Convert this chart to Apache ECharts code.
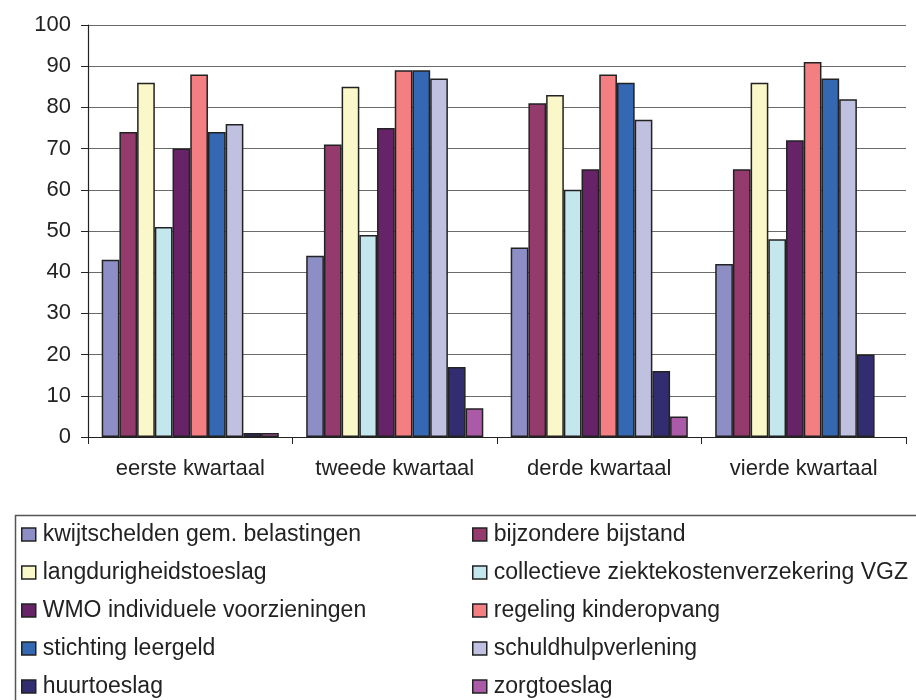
<!DOCTYPE html>
<html>
<head>
<meta charset="utf-8">
<script src="https://cdn.jsdelivr.net/npm/echarts@6/dist/echarts.min.js"></script>
<style>
  html, body { margin: 0; padding: 0; background: #fff; }
  #chart { width: 916px; height: 700px; }
</style>
</head>
<body>
<div id="chart"></div>
<script>
var kwartalen = ["eerste kwartaal", "tweede kwartaal", "derde kwartaal", "vierde kwartaal"];

var kwijtschelden = [43, 44, 46, 42];
var bijzondereBijstand = [74, 71, 81, 65];
var langdurigheidstoeslag = [86, 85, 83, 86];
var collectieveVGZ = [51, 49, 60, 48];
var wmoVoorzieningen = [70, 75, 65, 72];
var kinderopvang = [88, 89, 88, 91];
var leergeld = [74, 89, 86, 87];
var schuldhulp = [76, 87, 77, 82];
var huurtoeslag = [1, 17, 16, 20];
var zorgtoeslag = [1, 7, 5, "-"];

var yTicks = [0, 10, 20, 30, 40, 50, 60, 70, 80, 90, 100];

var reeksen = [
  { name: "kwijtschelden gem. belastingen", data: kwijtschelden, color: "#8e8ec6" },
  { name: "bijzondere bijstand", data: bijzondereBijstand, color: "#943a6c" },
  { name: "langdurigheidstoeslag", data: langdurigheidstoeslag, color: "#faf7c8" },
  { name: "collectieve ziektekostenverzekering VGZ", data: collectieveVGZ, color: "#c4e7ee" },
  { name: "WMO individuele voorzieningen", data: wmoVoorzieningen, color: "#662368" },
  { name: "regeling kinderopvang", data: kinderopvang, color: "#f37f82" },
  { name: "stichting leergeld", data: leergeld, color: "#3468b2" },
  { name: "schuldhulpverlening", data: schuldhulp, color: "#c0c0e0" },
  { name: "huurtoeslag", data: huurtoeslag, color: "#322d70" },
  { name: "zorgtoeslag", data: zorgtoeslag, color: "#aa5aa6" }
];

var font = "'Liberation Sans', Arial, sans-serif";
var chart = echarts.init(document.getElementById("chart"));

var series = reeksen.map(function (r) {
  return {
    name: r.name,
    type: "bar",
    data: r.data,
    barGap: "0%",
    barCategoryGap: "13.4%",
    itemStyle: { color: r.color, borderColor: "#222", borderWidth: 1.5 },
    emphasis: { disabled: true }
  };
});

function legendeKolom(namen, left) {
  return {
    orient: "vertical",
    left: left,
    top: 518,
    height: 260,
    itemWidth: 14,
    itemHeight: 13,
    itemGap: 15,
    icon: "rect",
    data: namen,
    selectedMode: false,
    itemStyle: { borderColor: "#222", borderWidth: 1.5 },
    textStyle: { fontFamily: font, fontSize: 23, color: "#222", padding: [0, 0, 0, 2] }
  };
}

chart.setOption({
  animation: false,
  backgroundColor: "#fff",
  grid: { left: 88, right: 10, top: 25, height: 412 },
  xAxis: {
    type: "category",
    data: kwartalen,
    axisLine: { lineStyle: { color: "#222", width: 1.2 } },
    axisTick: { show: true, length: 7, interval: 0, lineStyle: { color: "#222" } },
    axisLabel: { fontFamily: font, fontSize: 22, color: "#222", margin: 21, interval: 0 }
  },
  yAxis: {
    type: "value",
    min: yTicks[0],
    max: yTicks[yTicks.length - 1],
    interval: 10,
    axisLine: { show: true, lineStyle: { color: "#222", width: 1.2 } },
    axisTick: { show: true, length: 7, lineStyle: { color: "#222" } },
    axisLabel: { fontFamily: font, fontSize: 22, color: "#222", margin: 17 },
    splitLine: { lineStyle: { color: "#6a6a6a", width: 1 } }
  },
  legend: [
    legendeKolom(reeksen.filter(function (r, i) { return i % 2 === 0; }).map(function (r) { return r.name; }), 16),
    legendeKolom(reeksen.filter(function (r, i) { return i % 2 === 1; }).map(function (r) { return r.name; }), 467)
  ],
  graphic: [{
    type: "rect",
    left: 13,
    top: 513,
    shape: { width: 920, height: 200 },
    style: { fill: null, stroke: "#555", lineWidth: 1.5 },
    silent: true
  }],
  series: series
});
</script>
</body>
</html>
